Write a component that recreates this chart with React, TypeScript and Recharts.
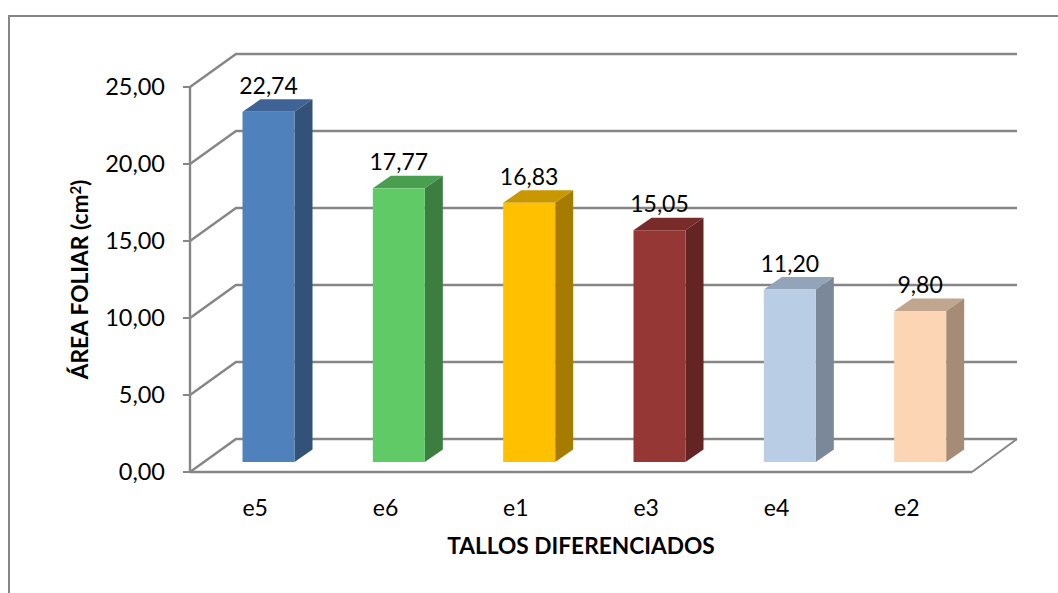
import { BarChart, Bar, XAxis, YAxis, CartesianGrid, LabelList } from "recharts";

const categories = ["e5", "e6", "e1", "e3", "e4", "e2"];
const areaFoliar = [22.74, 17.77, 16.83, 15.05, 11.2, 9.8];
const yTicks = [0, 5, 10, 15, 20, 25];

const frontColors = ["#4F81BD", "#60CA66", "#FFC000", "#953735", "#B9CDE5", "#FCD5B5"];
const sideColors = ["#325278", "#3C7E40", "#A67C00", "#632423", "#7A8899", "#A68B76"];
const topColors = ["#3E6394", "#4A9E4F", "#C99700", "#772C2A", "#94A4B8", "#C0A68F"];

const data = categories.map((name, i) => ({ name, value: areaFoliar[i] }));

const AXIS = "#868686";
const FONT = "Lato, sans-serif";

// depth of the 3D box: walls and bar sides recede up and to the right
const WALL_DX = 46;
const WALL_DY = -33;
const BAR_SHIFT_X = 13.5;
const BAR_SHIFT_Y = -10;
const BAR_DX = 18;
const BAR_DY = -12.5;

const fmt = (v: number) => v.toFixed(2).replace(".", ",");

const WallLine = (props: any) => {
  const { x1, x2, y1 } = props;
  const isFloor = y1 > 470;
  return (
    <g>
      <path
        d={`M${x1},${y1} L${x1 + WALL_DX},${y1 + WALL_DY} L${x2 + WALL_DX - 1},${y1 + WALL_DY}`}
        fill="none"
        stroke={AXIS}
        strokeWidth={2.4}
      />
      {isFloor && (
        <path
          d={`M${x2 + WALL_DX - 1},${y1 + WALL_DY} L${x2},${y1}`}
          fill="none"
          stroke={AXIS}
          strokeWidth={2}
        />
      )}
    </g>
  );
};

const Bar3D = (props: any) => {
  const { x, y, width, height, index } = props;
  const left = x + BAR_SHIFT_X;
  const right = left + width;
  const top = y + BAR_SHIFT_Y;
  const bottom = top + height;
  return (
    <g>
      <polygon
        points={`${left},${top} ${left + BAR_DX},${top + BAR_DY} ${right + BAR_DX},${top + BAR_DY} ${right},${top}`}
        fill={topColors[index]}
      />
      <polygon
        points={`${right},${top} ${right + BAR_DX},${top + BAR_DY} ${right + BAR_DX},${bottom + BAR_DY} ${right},${bottom}`}
        fill={sideColors[index]}
      />
      <rect x={left} y={top} width={width} height={height} fill={frontColors[index]} />
    </g>
  );
};

const ValueLabel = (props: any) => {
  const { x, y, width, value } = props;
  return (
    <text
      x={x + BAR_SHIFT_X + width / 2}
      y={y + BAR_SHIFT_Y - 18}
      textAnchor="middle"
      fontFamily={FONT}
      fontSize={23}
      fill="#000"
    >
      {fmt(value)}
    </text>
  );
};

// rotated title, centred on the height of the plot
const YTitle = (props: any) => {
  const { viewBox } = props;
  const cx = 88;
  const cy = viewBox.y + viewBox.height / 2;
  return (
    <text
      x={cx}
      y={cy}
      transform={`rotate(-90 ${cx} ${cy})`}
      textAnchor="middle"
      fontFamily={FONT}
      fontSize={22.7}
      fontWeight={700}
      fill="#000"
    >
      ÁREA FOLIAR (cm
      <tspan dy={-7} fontSize={15}>
        2
      </tspan>
      <tspan dy={7}>)</tspan>
    </text>
  );
};

export default function App() {
  return (
    <div style={{ position: "absolute", left: 0, top: 0, width: 1058, height: 593, overflow: "hidden" }}>
      {/* chart area outline: only the top and left edges are in view */}
      <div
        style={{
          position: "absolute",
          left: 7.5,
          top: 15,
          width: 1051,
          height: 578,
          borderTop: `2px solid ${AXIS}`,
          borderLeft: `2px solid ${AXIS}`,
          boxSizing: "border-box",
        }}
      />
      <div style={{ position: "absolute", left: 0, top: 0 }}>
        <BarChart
          width={1058}
          height={593}
          data={data}
          barSize={52}
          margin={{ top: 87, right: 86, bottom: 61, left: 90 }}
        >
          <CartesianGrid vertical={false} horizontal={(p: any) => <WallLine key={p.key} {...p} />} />
          <XAxis
            dataKey="name"
            height={60}
            axisLine={{ stroke: AXIS, strokeWidth: 2.4 }}
            tickLine={false}
            tickMargin={22}
            tick={{ fill: "#000", fontFamily: FONT, fontSize: 23 }}
            label={{
              value: "TALLOS DIFERENCIADOS",
              position: "insideBottom",
              offset: -22,
              fill: "#000",
              fontFamily: FONT,
              fontSize: 22.7,
              fontWeight: 700,
            }}
          />
          <YAxis
            width={100}
            domain={[0, 25]}
            ticks={yTicks}
            tickFormatter={fmt}
            interval={0}
            axisLine={{ stroke: AXIS, strokeWidth: 2.4 }}
            tickLine={{ stroke: AXIS, strokeWidth: 2 }}
            tickSize={7}
            tickMargin={18}
            tick={{ fill: "#000", fontFamily: FONT, fontSize: 23.5 }}
            label={<YTitle />}
          />
          <Bar dataKey="value" shape={<Bar3D />} isAnimationActive={false}>
            <LabelList dataKey="value" content={<ValueLabel />} />
          </Bar>
        </BarChart>
      </div>
    </div>
  );
}
